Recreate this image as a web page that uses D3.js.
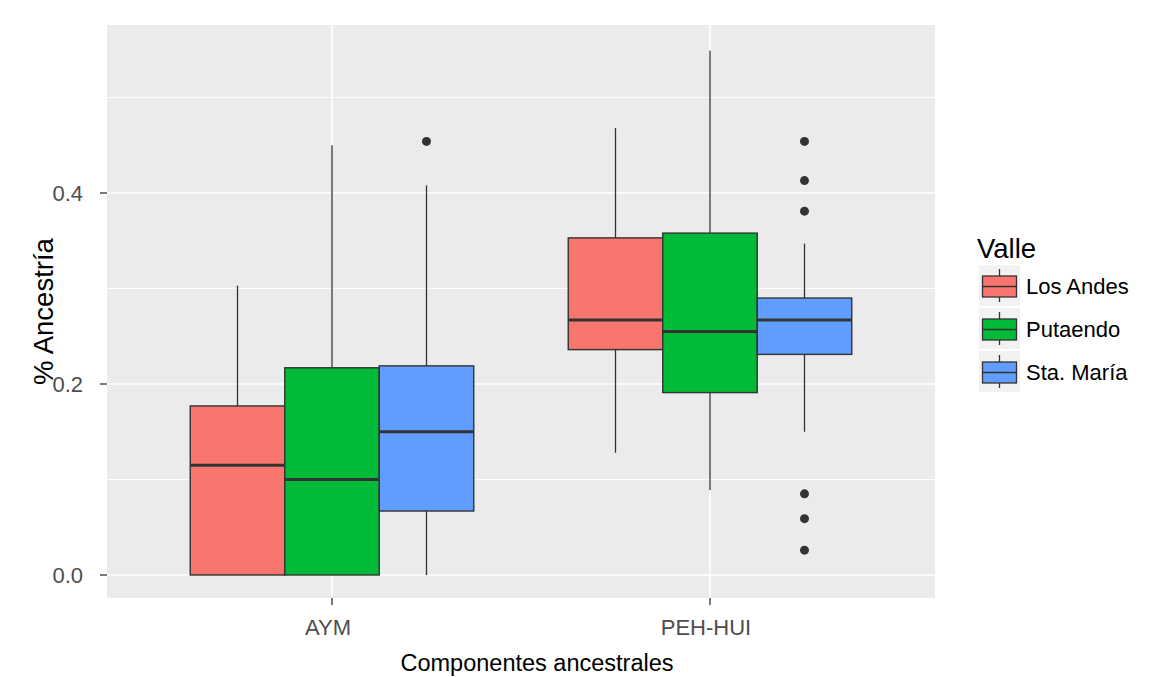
<!DOCTYPE html>
<html>
<head>
<meta charset="utf-8">
<script src="https://cdn.jsdelivr.net/npm/d3@7"></script>
<style>
  body { margin: 0; background: #fff; }
  text { font-family: "Liberation Sans", Arial, sans-serif; }
</style>
</head>
<body>
<svg width="1167" height="677"></svg>
<script>
const svg = d3.select("svg");

// data
const components = ["AYM", "PEH-HUI"];
const valleys = ["Los Andes", "Putaendo", "Sta. María"];
const colors = ["#F8766D", "#00BA38", "#619CFF"];
const yTicks = [0, 0.2, 0.4];
const yMinor = [0.1, 0.3, 0.5];

// [component, valley, lowWhisker, q1, median, q3, highWhisker]
const boxes = [
    ["AYM", "Los Andes", 0, 0, 0.115, 0.177, 0.303],
    ["AYM", "Putaendo", 0, 0, 0.100, 0.217, 0.450],
    ["AYM", "Sta. María", 0, 0.067, 0.150, 0.219, 0.408],
    ["PEH-HUI", "Los Andes", 0.128, 0.236, 0.267, 0.353, 0.468],
    ["PEH-HUI", "Putaendo", 0.089, 0.191, 0.255, 0.358, 0.549],
    ["PEH-HUI", "Sta. María", 0.150, 0.231, 0.267, 0.290, 0.347]
];
const outliers = [
    ["AYM", "Sta. María", 0.454],
    ["PEH-HUI", "Sta. María", 0.454],
    ["PEH-HUI", "Sta. María", 0.413],
    ["PEH-HUI", "Sta. María", 0.381],
    ["PEH-HUI", "Sta. María", 0.085],
    ["PEH-HUI", "Sta. María", 0.059],
    ["PEH-HUI", "Sta. María", 0.026]
];

const pLeft = 107, pRight = 935, pTop = 25, pBottom = 598;

const x = d3.scalePoint().domain(components).range([332, 710]);
const step = x(components[1]) - x(components[0]);
const dodge = d3.scaleBand().domain(valleys).range([-step * 0.375, step * 0.375]);
const y = d3.scaleLinear().domain([0, 0.4]).range([575, 193]);
const color = d3.scaleOrdinal().domain(valleys).range(colors);

// panel
svg.append("rect")
    .attr("x", pLeft).attr("y", pTop)
    .attr("width", pRight - pLeft).attr("height", pBottom - pTop)
    .attr("fill", "#EBEBEB");

svg.selectAll(".minor").data(yMinor).enter().append("line")
    .attr("x1", pLeft).attr("x2", pRight)
    .attr("y1", d => y(d)).attr("y2", d => y(d))
    .attr("stroke", "#fff").attr("stroke-width", 0.9);

svg.selectAll(".major").data(yTicks).enter().append("line")
    .attr("x1", pLeft).attr("x2", pRight)
    .attr("y1", d => y(d)).attr("y2", d => y(d))
    .attr("stroke", "#fff").attr("stroke-width", 1.6);

svg.selectAll(".vmajor").data(components).enter().append("line")
    .attr("x1", d => x(d)).attr("x2", d => x(d))
    .attr("y1", pTop).attr("y2", pBottom)
    .attr("stroke", "#fff").attr("stroke-width", 1.6);

// boxes
const g = svg.append("g");
boxes.forEach(b => {
    const [comp, val, lo, q1, med, q3, hi] = b;
    const x0 = x(comp) + dodge(val);
    const w = dodge.bandwidth();
    const cx = x0 + w / 2;
    g.append("line")
        .attr("x1", cx).attr("x2", cx)
        .attr("y1", y(hi)).attr("y2", y(q3))
        .attr("stroke", "#333").attr("stroke-width", 1.3);
    g.append("line")
        .attr("x1", cx).attr("x2", cx)
        .attr("y1", y(q1)).attr("y2", y(lo))
        .attr("stroke", "#333").attr("stroke-width", 1.3);
    g.append("rect")
        .attr("x", x0).attr("y", y(q3))
        .attr("width", w).attr("height", y(q1) - y(q3))
        .attr("fill", color(val))
        .attr("stroke", "#333").attr("stroke-width", 1.4);
    g.append("line")
        .attr("x1", x0).attr("x2", x0 + w)
        .attr("y1", y(med)).attr("y2", y(med))
        .attr("stroke", "#333").attr("stroke-width", 3);
});

g.selectAll("circle").data(outliers).enter().append("circle")
    .attr("cx", d => x(d[0]) + dodge(d[1]) + dodge.bandwidth() / 2)
    .attr("cy", d => y(d[2]))
    .attr("r", 4.5)
    .attr("fill", "#333");

// y axis
const yAxis = svg.append("g");
yTicks.forEach(t => {
    yAxis.append("line")
        .attr("x1", pLeft - 7).attr("x2", pLeft)
        .attr("y1", y(t)).attr("y2", y(t))
        .attr("stroke", "#333").attr("stroke-width", 1.3);
    yAxis.append("text")
        .attr("x", pLeft - 24).attr("y", y(t))
        .attr("dy", "0.36em")
        .attr("text-anchor", "end")
        .attr("font-size", 22)
        .attr("fill", "#4D4D4D")
        .text(d3.format(".1f")(t));
});

// x axis
const xAxis = svg.append("g");
components.forEach(c => {
    xAxis.append("line")
        .attr("x1", x(c)).attr("x2", x(c))
        .attr("y1", pBottom).attr("y2", pBottom + 7)
        .attr("stroke", "#333").attr("stroke-width", 1.3);
    xAxis.append("text")
        .attr("x", x(c) - 4).attr("y", 635)
        .attr("text-anchor", "middle")
        .attr("font-size", 22)
        .attr("fill", "#4D4D4D")
        .text(c);
});

svg.append("text")
    .attr("x", 537).attr("y", 671)
    .attr("text-anchor", "middle")
    .attr("font-size", 23.5)
    .attr("fill", "#000")
    .text("Componentes ancestrales");

svg.append("text")
    .attr("transform", `translate(53,${(pTop + pBottom) / 2}) rotate(-90)`)
    .attr("text-anchor", "middle")
    .attr("font-size", 27.5)
    .attr("fill", "#000")
    .text("% Ancestría");

// legend
const legend = svg.append("g").attr("transform", "translate(979,265)");
legend.append("text")
    .attr("x", -2).attr("y", -7)
    .attr("font-size", 27.5)
    .text("Valle");

valleys.forEach((v, i) => {
    const k = legend.append("g").attr("transform", `translate(0,${i * 43})`);
    k.append("rect")
        .attr("width", 41).attr("height", 41)
        .attr("fill", "#F2F2F2");
    k.append("line")
        .attr("x1", 20.5).attr("x2", 20.5)
        .attr("y1", 4).attr("y2", 37)
        .attr("stroke", "#333").attr("stroke-width", 1.3);
    k.append("rect")
        .attr("x", 3.5).attr("y", 11)
        .attr("width", 34).attr("height", 21)
        .attr("fill", color(v))
        .attr("stroke", "#333").attr("stroke-width", 1.3);
    k.append("line")
        .attr("x1", 3.5).attr("x2", 37.5)
        .attr("y1", 21.5).attr("y2", 21.5)
        .attr("stroke", "#333").attr("stroke-width", 1.5);
    k.append("text")
        .attr("x", 47).attr("y", 21.5)
        .attr("dy", "0.36em")
        .attr("font-size", 22)
        .text(v);
});
</script>
</body>
</html>
